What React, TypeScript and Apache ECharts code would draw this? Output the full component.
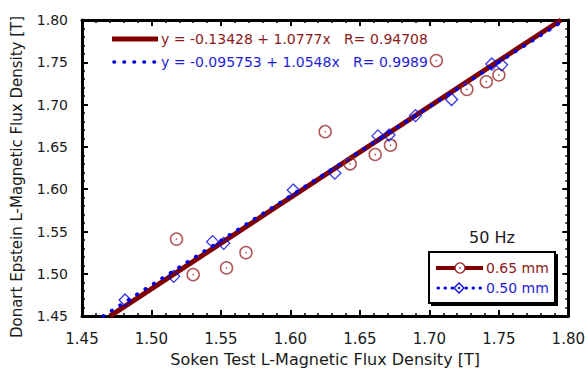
import React, { useEffect, useRef } from "react";
import * as echarts from "echarts";

// 0.65 mm samples (circles): [Soken, Epstein]
const data065: [number, number][] = [
  [1.518, 1.541], [1.530, 1.499], [1.554, 1.507], [1.568, 1.525],
  [1.625, 1.668], [1.643, 1.630], [1.661, 1.641], [1.672, 1.652],
  [1.705, 1.752], [1.727, 1.718], [1.741, 1.727], [1.750, 1.735],
];
// 0.50 mm samples (diamonds)
const data050: [number, number][] = [
  [1.481, 1.469], [1.516, 1.497], [1.544, 1.538], [1.552, 1.536],
  [1.602, 1.599], [1.632, 1.619], [1.663, 1.663], [1.671, 1.664],
  [1.690, 1.687], [1.716, 1.706], [1.745, 1.748], [1.752, 1.747],
];
// regression lines endpoints (clipped to the axes)
const fit065: [number, number][] = [[1.4701, 1.45], [1.7948, 1.8]];
const fit050: [number, number][] = [[1.4652, 1.45], [1.7973, 1.8]];

const fitLabel065 = "y = -0.13428 + 1.0777x   R= 0.94708";
const fitLabel050 = "y = -0.095753 + 1.0548x   R= 0.9989";
const legendNames = ["0.65 mm", "0.50 mm"];
const freqLabel = "50 Hz";
const xTitle = "Soken Test L-Magnetic Flux Density [T]";
const yTitle = "Donart Epstein L-Magnetic Flux Density [T]";

const RED = "#800000";
const RED_TXT = "#8B1A1A";
const MARK_RED = "#9A2A2A";
const BLUE = "#0000E6";
const BLUE_TXT = "#1E1ED8";
const FONT = "DejaVu Sans";

export default function App() {
  const ref = useRef<HTMLDivElement>(null);
  useEffect(() => {
    if (!ref.current) return;
    const chart = echarts.init(ref.current, null, { renderer: "svg" });
    const axisCommon = {
      type: "value" as const,
      min: 1.45,
      max: 1.8,
      interval: 0.05,
      axisLine: { show: true, onZero: false, lineStyle: { color: "#000", width: 3 } },
      axisTick: { show: true, inside: true, length: 6, lineStyle: { color: "#000", width: 2 } },
      minorTick: { show: true, splitNumber: 5, length: 3, lineStyle: { color: "#000", width: 1.5 } },
      splitLine: { show: false },
      minorSplitLine: { show: false },
    };
    const labelStyle = {
      color: "#1a1a1a",
      fontFamily: FONT,
      formatter: (v: number) => v.toFixed(2),
      showMinLabel: true,
      showMaxLabel: true,
    };
    chart.setOption({
      animation: false,
      backgroundColor: "#fff",
      grid: { left: 82, right: 17, top: 20, bottom: 52 },
      xAxis: [
        {
          ...axisCommon,
          position: "bottom",
          axisLabel: { ...labelStyle, fontSize: 15, margin: 15 },
          name: xTitle,
          nameLocation: "middle",
          nameGap: 32,
          nameTextStyle: { fontSize: 16, color: "#1a1a1a", fontFamily: FONT },
        },
        { ...axisCommon, position: "top", axisLabel: { show: false } },
      ],
      yAxis: [
        {
          ...axisCommon,
          position: "left",
          axisLabel: { ...labelStyle, fontSize: 14, margin: 14 },
        },
        { ...axisCommon, position: "right", axisLabel: { show: false } },
      ],
      series: [
        {
          type: "line",
          data: fit065,
          symbol: "none",
          lineStyle: { color: RED, width: 5 },
          z: 2,
        },
        {
          type: "line",
          data: fit050,
          symbol: "none",
          lineStyle: { color: BLUE, width: 3.6, type: [0.5, 9.5], cap: "round" },
          z: 3,
        },
        {
          type: "scatter",
          data: data065,
          symbol: "circle",
          symbolSize: 12,
          itemStyle: { color: "rgba(255,255,255,0)", borderColor: MARK_RED, borderWidth: 1.5 },
          z: 4,
        },
        {
          type: "scatter",
          data: data065,
          symbol: "circle",
          symbolSize: 1.6,
          itemStyle: { color: MARK_RED },
          z: 4,
        },
        {
          type: "scatter",
          data: data050,
          symbol: "diamond",
          symbolSize: 12,
          itemStyle: { color: "rgba(255,255,255,0)", borderColor: BLUE, borderWidth: 1.3 },
          z: 5,
        },
      ],
      graphic: [
        {
          type: "text", x: 17, y: 177, rotation: Math.PI / 2,
          style: { text: yTitle, fill: "#1a1a1a", font: `15px '${FONT}'`, align: "center", verticalAlign: "middle" },
        },
        { type: "line", shape: { x1: 112, y1: 39, x2: 158, y2: 39 }, style: { stroke: RED, lineWidth: 5 } },
        {
          type: "text", x: 161, y: 39,
          style: { text: fitLabel065, fill: RED_TXT, font: `14px '${FONT}'`, verticalAlign: "middle" },
        },
        {
          type: "line", shape: { x1: 114, y1: 62, x2: 157, y2: 62 },
          style: { stroke: BLUE, lineWidth: 3.6, lineDash: [0.5, 9.5], lineCap: "round" },
        },
        {
          type: "text", x: 161, y: 62,
          style: { text: fitLabel050, fill: BLUE_TXT, font: `14px '${FONT}'`, verticalAlign: "middle" },
        },
        {
          type: "text", x: 492, y: 237,
          style: { text: freqLabel, fill: "#1a1a1a", font: `16px '${FONT}'`, align: "center", verticalAlign: "middle" },
        },
        // legend box shadow and frame
        { type: "rect", shape: { x: 431, y: 254, width: 127, height: 52 }, style: { fill: "#000" }, z: 10 },
        { type: "rect", shape: { x: 429, y: 252, width: 126, height: 51 }, style: { fill: "#fff", stroke: "#000", lineWidth: 2 }, z: 11 },
        { type: "line", shape: { x1: 436, y1: 268, x2: 483, y2: 268 }, style: { stroke: RED, lineWidth: 4 }, z: 12 },
        { type: "circle", shape: { cx: 460, cy: 268, r: 5 }, style: { fill: "#fff", stroke: MARK_RED, lineWidth: 1.3 }, z: 13 },
        { type: "circle", shape: { cx: 460, cy: 268, r: 0.8 }, style: { fill: MARK_RED }, z: 14 },
        {
          type: "text", x: 486, y: 268, z: 12,
          style: { text: legendNames[0], fill: RED_TXT, font: `14px '${FONT}'`, verticalAlign: "middle" },
        },
        {
          type: "line", shape: { x1: 438, y1: 288, x2: 481, y2: 288 }, z: 12,
          style: { stroke: BLUE, lineWidth: 3, lineDash: [0.5, 6.5], lineCap: "round" },
        },
        {
          type: "polygon", z: 13,
          shape: { points: [[459, 283], [464, 288], [459, 293], [454, 288]] },
          style: { fill: "#fff", stroke: BLUE, lineWidth: 1.3 },
        },
        { type: "circle", shape: { cx: 459, cy: 288, r: 1.2 }, style: { fill: BLUE }, z: 14 },
        {
          type: "text", x: 486, y: 288, z: 12,
          style: { text: legendNames[1], fill: BLUE_TXT, font: `14px '${FONT}'`, verticalAlign: "middle" },
        },
      ],
    });
    return () => chart.dispose();
  }, []);
  return <div ref={ref} style={{ width: 588, height: 372, position: "absolute", left: 0, top: 0 }} />;
}
